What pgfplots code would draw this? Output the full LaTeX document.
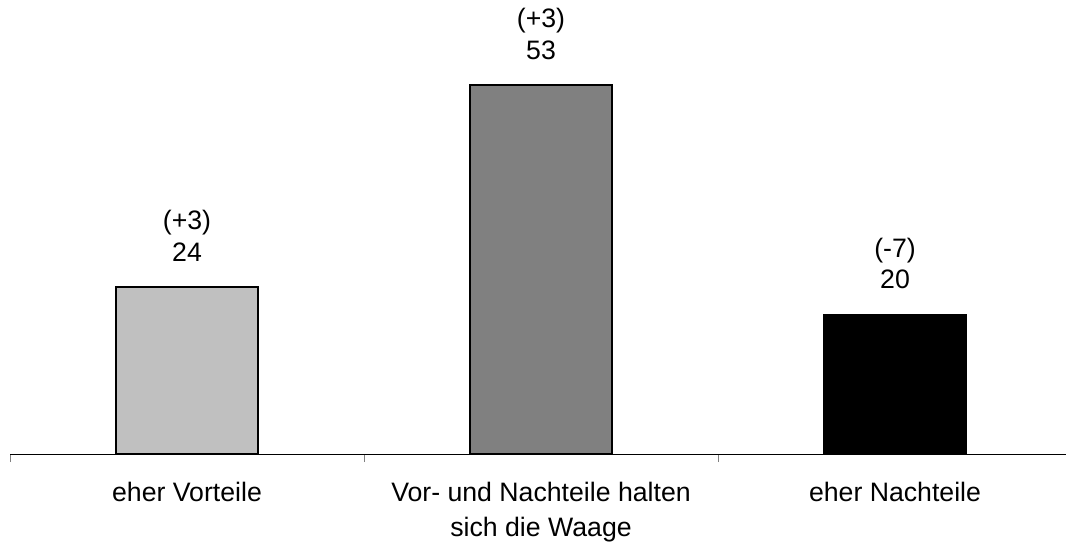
\documentclass[border=0pt]{standalone}
\usepackage{pgfplots}
\pgfplotsset{compat=1.18}
\usepackage{fontspec}
\setmainfont{Liberation Sans}
\definecolor{barlight}{RGB}{192,192,192}
\definecolor{barmid}{RGB}{128,128,128}
\begin{document}
\begin{tikzpicture}[x=1pt,y=1pt]
\path[use as bounding box] (-7.5,-66) rectangle (792,340.5);
\begin{axis}[
  at={(0,0)}, anchor=south west,
  scale only axis, width=792pt, height=340.5pt,
  xmin=-0.5, xmax=2.483, ymin=0, ymax=65.2,
  /pgf/number format/assume math mode=true,
  axis x line*=bottom, axis y line=none,
  x axis line style={black, line width=0.75pt},
  xtick={0,1,2},
  xticklabels={eher Vorteile, {Vor- und Nachteile halten\\sich die Waage}, eher Nachteile},
  major tick length=0pt,
  minor xtick={-0.5,0.5,1.5},
  minor tick length=6pt,
  tick align=outside,
  minor tick style={gray, line width=0.75pt},
  ytick=\empty,
  xticklabel style={align=center, anchor=north, inner sep=0pt, yshift=-21pt,
    font=\fontsize{20}{26.5}\selectfont},
  ybar, bar width=106.5pt, bar shift=0pt,
  clip=false,
  every node near coord/.append style={align=center, anchor=south, inner sep=0pt,
    yshift=18.5pt, font=\fontsize{20}{23.5}\selectfont, text=black},
]
\addplot[draw=black, line width=1.5pt, fill=barlight,
  nodes near coords={(+3)\\\pgfmathprintnumber{\pgfplotspointmeta}}]
  coordinates {(0,24)};
\addplot[draw=black, line width=1.5pt, fill=barmid,
  nodes near coords={(+3)\\\pgfmathprintnumber{\pgfplotspointmeta}}]
  coordinates {(1,53)};
\addplot[draw=black, line width=1.5pt, fill=black,
  nodes near coords={(-7)\\\pgfmathprintnumber{\pgfplotspointmeta}}]
  coordinates {(2,20)};
\end{axis}
\end{tikzpicture}
\end{document}
